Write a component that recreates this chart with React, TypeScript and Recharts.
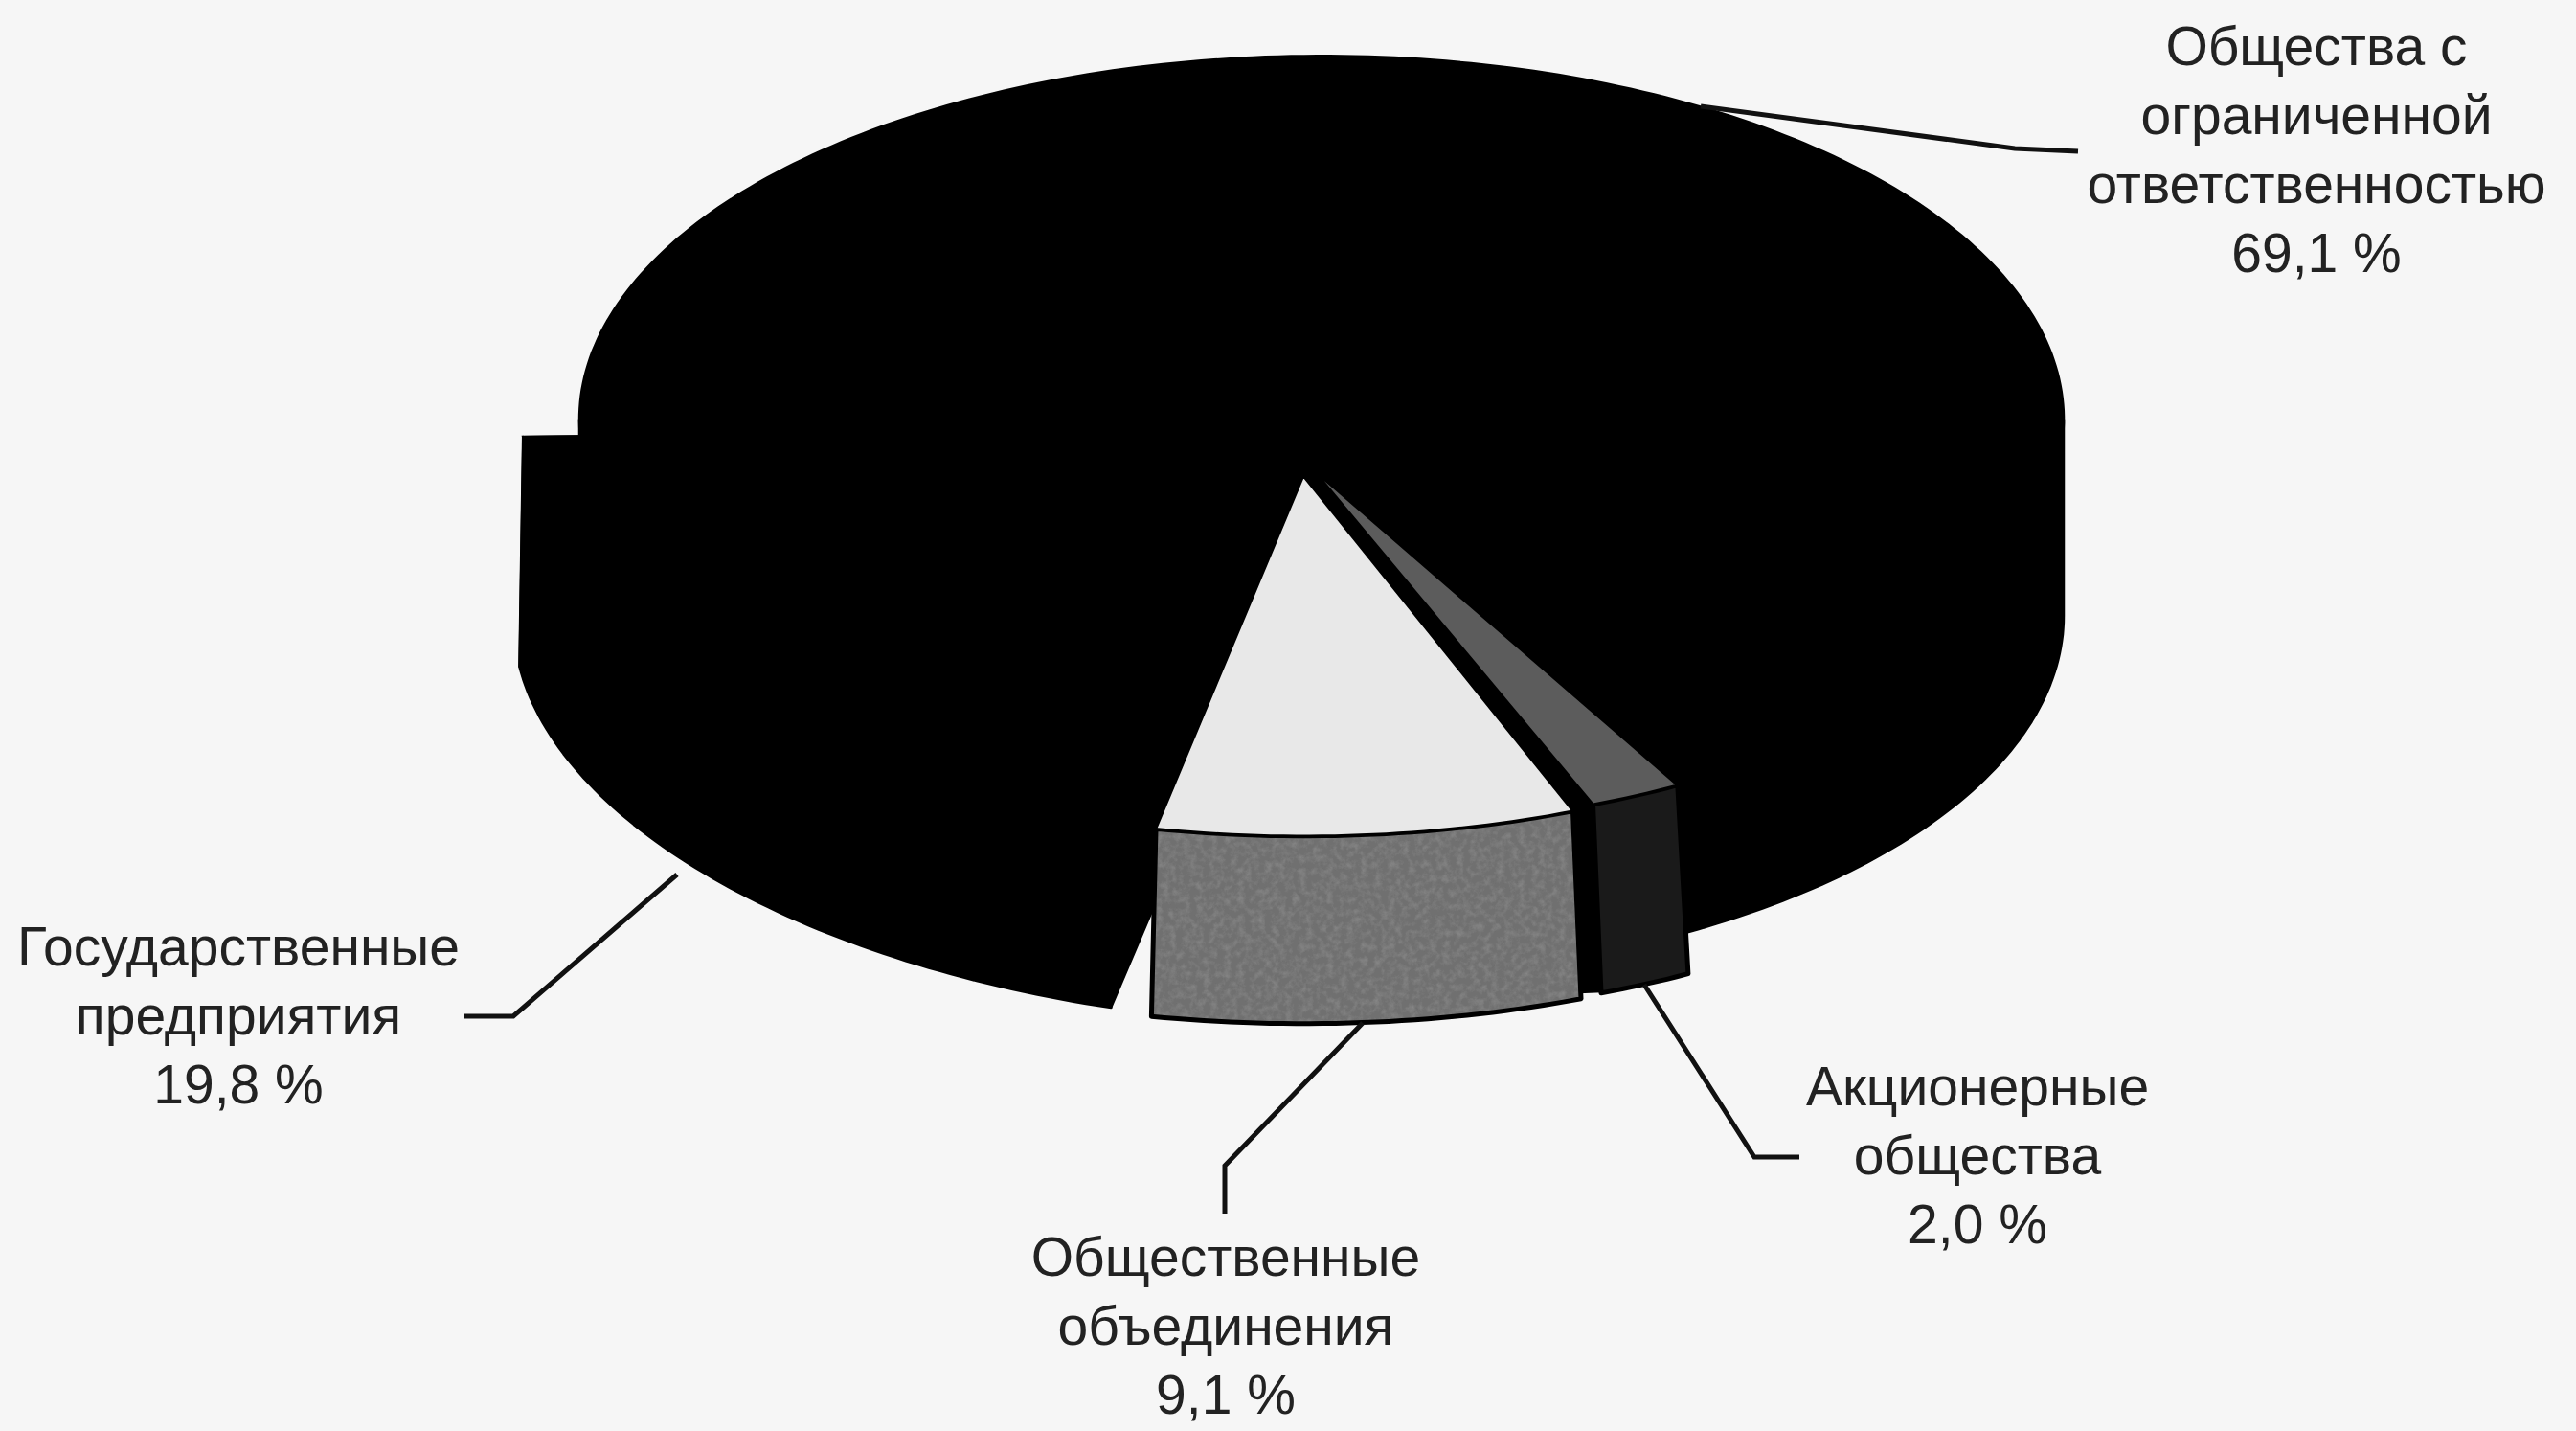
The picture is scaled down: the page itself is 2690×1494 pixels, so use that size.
import { PieChart, Pie } from "recharts";

const CATEGORIES = [
  "Общества с ограниченной ответственностью",
  "Государственные предприятия",
  "Общественные объединения",
  "Акционерные общества",
];
const SHARES = [69.1, 19.8, 9.1, 2.0];
const SHARE_LABELS = ["69,1 %", "19,8 %", "9,1 %", "2,0 %"];
const LABEL_LINES = [
  ["Общества с", "ограниченной", "ответственностью"],
  ["Государственные", "предприятия"],
  ["Общественные", "объединения"],
  ["Акционерные", "общества"],
];

const data = CATEGORIES.map((name, i) => ({ name, value: SHARES[i] }));

const WIDTH = 2690;
const HEIGHT = 1494;
const PIE_CX = 1380;
const PIE_CY = 438;
const RADIUS = 775;
const TILT = 0.49;
const FONT = "'Liberation Sans', Arial, sans-serif";

// each slice is pulled out of the pie by its own amount
const SLICES = [
  { dx: 0, dy: 0, apex: [0, 0], depth: 205, spread: 1, shear: 0, top: "#000000", wall: "#000000", cut: true, texture: false },
  { dx: -65, dy: 10, apex: [-65, 10], depth: 240, spread: 1.005, shear: 0.052, top: "#000000", wall: "#000000", cut: true, texture: false },
  { dx: -19, dy: 55, apex: [-19, 59], depth: 196, spread: 1.03, shear: 0, top: "#e8e8e8", wall: "#707070", cut: false, texture: true },
  { dx: 2, dy: 48, apex: [-8, 53], depth: 197, spread: 1.03, shear: 0, top: "#5c5c5c", wall: "#1a1a1a", cut: false, texture: false },
];

const LEADERS = [
  [[1776, 111], [2104, 155], [2170, 158]],
  [[707, 913], [536, 1061], [485, 1061]],
  [[1423, 1068], [1279, 1217], [1279, 1267]],
  [[1717, 1028], [1832, 1208], [1879, 1208]],
];

const LABEL_POS = [
  { x: 2419, y: 68 },
  { x: 249, y: 1008 },
  { x: 1280, y: 1332 },
  { x: 2065, y: 1154 },
];

function arcPoints(cx: number, cy: number, rx: number, ry: number, from: number, to: number, shear: number) {
  const pts: number[][] = [];
  const steps = Math.max(2, Math.ceil(Math.abs(to - from)));
  for (let s = 0; s <= steps; s++) {
    const a = ((from + ((to - from) * s) / steps) * Math.PI) / 180;
    const x = cx + rx * Math.cos(a);
    pts.push([x, cy - ry * Math.sin(a) + shear * (x - cx)]);
  }
  return pts;
}

const toPath = (pts: number[][]) => "M" + pts.map((p) => p[0].toFixed(1) + " " + p[1].toFixed(1)).join("L") + "Z";

// only the part of the rim that faces the viewer has a wall
function frontRanges(start: number, end: number) {
  const out: number[][] = [];
  for (const k of [-360, 0, 360]) {
    const from = Math.max(start, 180 + k);
    const to = Math.min(end, 360 + k);
    if (to > from) out.push([from, to]);
  }
  return out;
}

function SliceShape(props: any) {
  const { cx, cy, outerRadius, startAngle, endAngle, index } = props;
  const i = index ?? CATEGORIES.indexOf(props.name);
  const s = SLICES[i];
  const ox = cx + s.dx;
  const oy = cy + s.dy;
  const ry = outerRadius * TILT;
  const rimTop = (a: number, b: number) => arcPoints(ox, oy, outerRadius, ry, a, b, s.shear);
  const rimBottom = (a: number, b: number) => arcPoints(ox, oy + s.depth, outerRadius * s.spread, ry, a, b, s.shear);
  const top = rimTop(startAngle, endAngle);
  const bottom = rimBottom(startAngle, endAngle);
  const apex = [cx + s.apex[0], cy + s.apex[1]];
  const edgeWall = (a: number[], b: number[]) => toPath([[ox, oy], a, b, [ox, oy + s.depth]]);
  const filterId = "grain-" + i;
  const outline = i > 1 ? "#000" : s.wall;
  return (
    <g>
      {s.cut && <path d={edgeWall(top[0], bottom[0])} fill={s.wall} stroke={s.wall} strokeWidth={2} />}
      {s.cut && (
        <path
          d={edgeWall(top[top.length - 1], bottom[bottom.length - 1])}
          fill={s.wall}
          stroke={s.wall}
          strokeWidth={2}
        />
      )}
      {s.texture && (
        <filter id={filterId} x="-0.05" y="-0.05" width="1.1" height="1.1">
          <feTurbulence type="fractalNoise" baseFrequency="0.14" numOctaves="4" seed="4" />
          <feColorMatrix values="0 0 0 0 0.25  0 0 0 0 0.25  0 0 0 0 0.25  1.6 0 0 0 -0.62" />
          <feComposite in2="SourceGraphic" operator="in" />
          <feMerge>
            <feMergeNode in="SourceGraphic" />
            <feMergeNode />
          </feMerge>
        </filter>
      )}
      {i === 3 && (
        <line
          x1={top[0][0] - 11}
          y1={top[0][1]}
          x2={bottom[0][0] - 11}
          y2={bottom[0][1]}
          stroke="#000"
          strokeWidth={24}
        />
      )}
      {frontRanges(startAngle, endAngle).map(([a, b]) => {
        const d = toPath([...rimTop(a, b), ...rimBottom(a, b).reverse()]);
        return (
          <g key={a}>
            <path d={d} fill={s.wall} filter={s.texture ? `url(#${filterId})` : undefined} />
            <path d={d} fill="none" stroke={outline} strokeWidth={i > 1 ? 5 : 2.5} strokeLinejoin="round" />
          </g>
        );
      })}
      <path d={toPath([apex, ...top])} fill={s.top} stroke={i > 1 ? "#000" : s.top} strokeWidth={2.5} />
    </g>
  );
}

function SliceLabel(props: any) {
  const { index } = props;
  const pos = LABEL_POS[index];
  const lines = [...LABEL_LINES[index], SHARE_LABELS[index]];
  return (
    <g>
      <polyline
        points={LEADERS[index].map((p) => p.join(",")).join(" ")}
        fill="none"
        stroke="#111"
        strokeWidth={5}
      />
      <text x={pos.x} y={pos.y} textAnchor="middle" fontFamily={FONT} fontSize={57} fill="#222">
        {lines.map((line, n) => (
          <tspan key={n} x={pos.x} dy={n === 0 ? 0 : 72}>
            {line}
          </tspan>
        ))}
      </text>
    </g>
  );
}

export default function App() {
  return (
    <div style={{ position: "absolute", left: 0, top: 0, width: WIDTH, height: HEIGHT, background: "#f6f6f6" }}>
      <PieChart width={WIDTH} height={HEIGHT} margin={{ top: 0, right: 0, bottom: 0, left: 0 }}>
        <Pie
          data={data}
          dataKey="value"
          nameKey="name"
          cx={PIE_CX}
          cy={PIE_CY}
          innerRadius={0}
          outerRadius={RADIUS}
          startAngle={-61.5}
          endAngle={298.5}
          stroke="none"
          isAnimationActive={false}
          shape={SliceShape}
          activeShape={SliceShape}
          inactiveShape={SliceShape}
          label={SliceLabel}
          labelLine={false}
        />
      </PieChart>
    </div>
  );
}
